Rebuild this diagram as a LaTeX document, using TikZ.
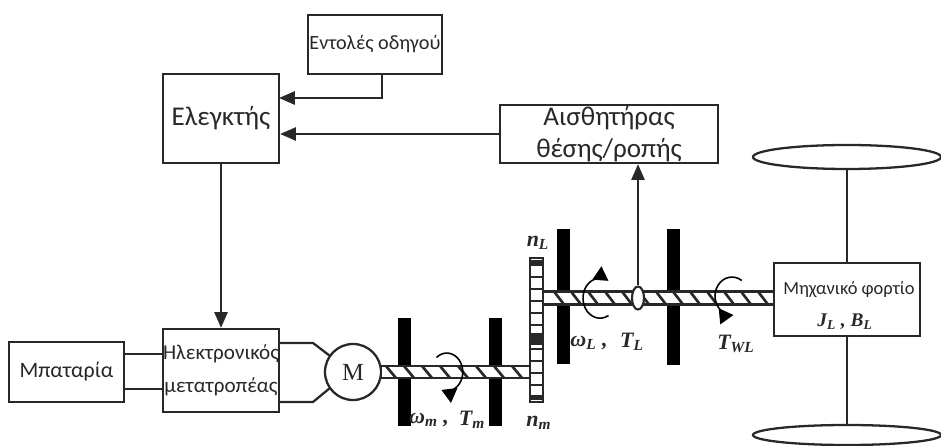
\documentclass[tikz,border=0pt]{standalone}
\usepackage{fontspec}
\setmainfont{Carlito}
\newfontfamily\symfont{Liberation Serif}
\usetikzlibrary{arrows.meta, shapes.geometric}
\definecolor{inkgray}{RGB}{40,40,40}
\tikzset{
    blockstyle/.style={rectangle, draw=inkgray, fill=white, line width=1.3pt, align=center, text=inkgray, inner sep=0pt, font=\fontsize{15.4}{18}\selectfont},
    bearing/.style={rectangle, fill=black, minimum width=0.26cm, inner sep=0pt},
    shaftstyle/.style={rectangle, draw=inkgray, fill=white, line width=1.2pt, inner sep=0pt},
    wheelstyle/.style={ellipse, draw=inkgray, fill=white, line width=1.3pt, inner sep=0pt, minimum width=3.76cm},
    arr/.style={-{Triangle[length=9pt, width=7.5pt]}, line width=1.2pt, color=inkgray},
    wire/.style={line width=1.3pt, color=inkgray},
    rotarr/.style={-{Triangle[length=8pt, width=9pt]}, line width=0.9pt, color=black},
    hatch/.style={line width=1.5pt, color=inkgray},
    symlbl/.style={font=\symfont\fontsize{12.5}{15}\selectfont\bfseries\itshape, text=inkgray, inner sep=0pt}
}
\begin{document}
\begin{tikzpicture}
    \useasboundingbox (0,0) rectangle (18.82,8.92);

    % Control blocks
    \node[blockstyle, minimum width=2.68cm, minimum height=1.18cm, font=\fontsize{11.5}{14}\selectfont] (driver) at (7.5,8.03) {Εντολές οδηγού};
    \node[blockstyle, minimum width=2.32cm, minimum height=1.78cm] (controller) at (4.42,6.55) {Ελεγκτής};
    \node[blockstyle, minimum width=4.36cm, minimum height=1.16cm] (sensor) at (12.18,6.24) {Αισθητήρας\\θέσης/ροπής};
    \draw[arr] (driver.south) ++(0.14,0) |- (5.58,6.96);
    \draw[arr] (sensor.west) -- (controller.east |- sensor.west);

    % Power stage
    \node[blockstyle, minimum width=2.30cm, minimum height=1.20cm, font=\fontsize{12.5}{15}\selectfont] (battery) at (1.33,1.48) {Μπαταρία};
    \node[blockstyle, minimum width=2.30cm, minimum height=1.66cm, font=\fontsize{12}{19}\selectfont] (converter) at (4.42,1.51) {Ηλεκτρονικός\\μετατροπέας};
    \node[circle, draw=inkgray, line width=1.3pt, minimum size=1.12cm, inner sep=0pt, font=\fontsize{14}{16}\selectfont\symfont, text=inkgray] (motor) at (7.06,1.48) {M};
    \draw[arr] (controller.south) -- (converter.north);
    \draw[wire] (battery.east |- 0,1.84) -- (converter.west |- 0,1.84);
    \draw[wire] (battery.east |- 0,1.14) -- (converter.west |- 0,1.14);
    \draw[wire] (converter.east |- 0,2.06) -- (6.26,2.06) -- (motor.145);
    \draw[wire] (converter.east |- 0,0.88) -- (6.26,0.88) -- (motor.215);

    % Bearings
    \node[bearing, minimum height=2.16cm] (bear1) at (8.09,1.48) {};
    \node[bearing, minimum height=2.16cm] (bear2) at (9.91,1.48) {};
    \node[bearing, minimum height=2.70cm] (bear3) at (11.27,2.99) {};
    \node[bearing, minimum height=2.72cm] (bear4) at (13.46,2.98) {};

    % Shafts
    \node[shaftstyle, minimum width=2.98cm, minimum height=0.24cm] (shaftm) at (9.11,1.48) {};
    \foreach \x in {7.72,8.08,...,10.4} \draw[hatch] (\x,1.6) -- (\x+0.2,1.36);
    \node[shaftstyle, minimum width=4.64cm, minimum height=0.26cm] (shaftl) at (13.18,2.96) {};
    \foreach \x in {11.08,11.42,...,15.3} \draw[hatch] (\x,3.09) -- (\x+0.2,2.83);

    % Gear
    \node[shaftstyle, minimum width=0.26cm, minimum height=2.88cm] (gear) at (10.73,2.32) {};
    \foreach \y in {0.98,1.22,...,3.7} \draw[line width=1.2pt, inkgray] (10.6,\y) -- (10.86,\y);
    \fill[inkgray] (10.6,2.02) rectangle (10.86,2.26);
    \fill[inkgray] (10.6,3.62) rectangle (10.86,3.72);
    \fill[inkgray] (10.6,0.92) rectangle (10.86,1.02);

    % Load and wheels
    \node[wheelstyle, minimum height=0.48cm] (wheeltop) at (16.94,5.78) {};
    \node[wheelstyle, minimum height=0.40cm] (wheelbot) at (16.94,0.22) {};
    \node[blockstyle, minimum width=2.92cm, minimum height=1.46cm] (load) at (16.94,2.93) {};
    \node[font=\fontsize{10.5}{13}\selectfont, text=inkgray, inner sep=0pt] (loadtxt) at (16.98,3.12) {Μηχανικό φορτίο};
    \node[symlbl, font=\symfont\fontsize{11}{12}\selectfont\bfseries\itshape] (loadsym) at (16.9,2.48) {J\textsubscript{L} , B\textsubscript{L}};
    \draw[wire] (wheeltop.south) -- (load.north);
    \draw[wire] (load.south) -- (wheelbot.north);

    % Position pick-off
    \node[ellipse, draw=inkgray, fill=white, line width=1.2pt, minimum width=0.24cm, minimum height=0.46cm, inner sep=0pt] (collar) at (12.76,2.96) {};
    \draw[arr] (collar.north) -- (collar.north |- sensor.south);

    % Rotation arrows
    \draw[rotarr] (8.73,1.77) arc[start angle=130, end angle=-110, x radius=0.32, y radius=0.38];
    \draw[rotarr] (12.17,2.61) arc[start angle=-60, end angle=-300, x radius=0.34, y radius=0.40];
    \draw[rotarr] (14.835,3.31) arc[start angle=55, end angle=275, x radius=0.34, y radius=0.38];

    % Labels
    \node[symlbl] (nl) at (10.76,4.06) {n\textsubscript{L}};
    \node[symlbl] (nm) at (10.78,0.46) {n\textsubscript{m}};
    \node[symlbl] (om) at (8.58,0.52) {ω\textsubscript{m} ,};
    \node[symlbl] (tm) at (9.44,0.52) {T\textsubscript{m}};
    \node[symlbl] (ol) at (11.78,2.06) {ω\textsubscript{L} ,};
    \node[symlbl] (tl) at (12.64,2.08) {T\textsubscript{L}};
    \node[symlbl] (twl) at (14.72,2.04) {T\textsubscript{WL}};
\end{tikzpicture}
\end{document}
